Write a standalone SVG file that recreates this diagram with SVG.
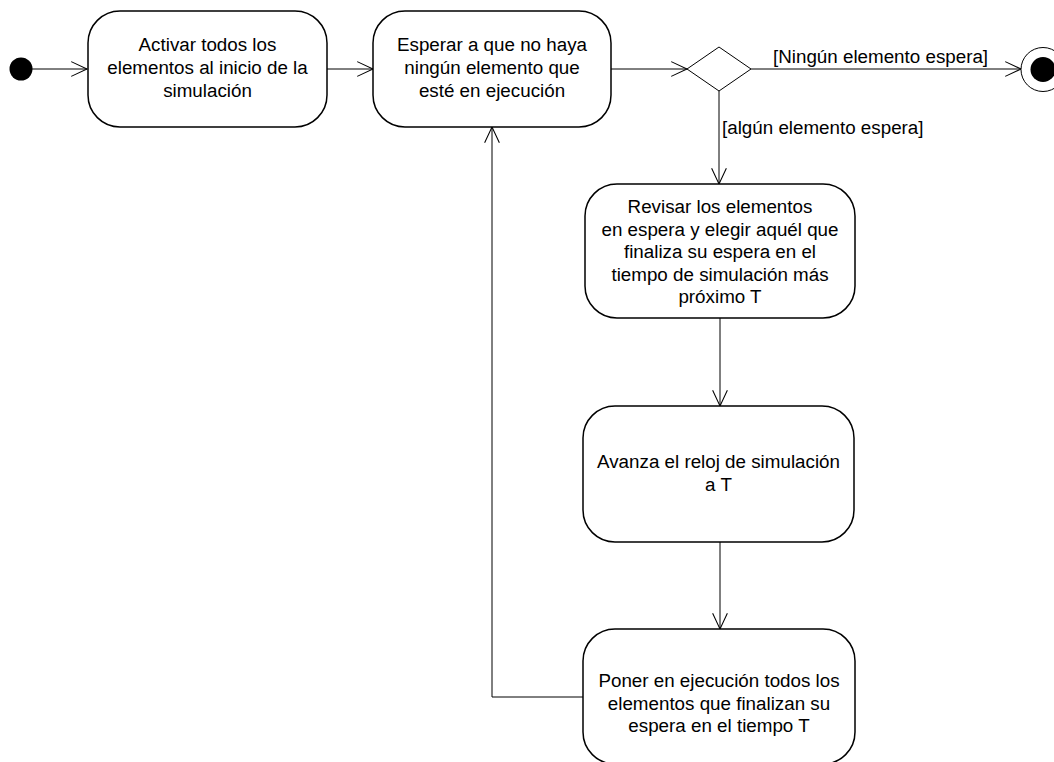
<svg xmlns="http://www.w3.org/2000/svg" width="1054" height="762" viewBox="0 0 1054 762">
<style>
.box{fill:#fff;stroke:#000;stroke-width:1.5}
.t{font-family:"Liberation Sans",Arial,sans-serif;font-size:18.8px;fill:#000;text-anchor:middle}
.l{font-family:"Liberation Sans",Arial,sans-serif;font-size:18.8px;fill:#000}
.c{fill:none;stroke:#000;stroke-width:1}
</style>
<defs>
<marker id="arr" markerUnits="userSpaceOnUse" markerWidth="20" markerHeight="20" viewBox="-17 -9 19 18" refX="0" refY="0" orient="auto">
<path d="M-15,-7 L0,0 L-15,7" fill="none" stroke="#000" stroke-width="1"/>
</marker>
</defs>
<rect width="1054" height="762" fill="#fff"/>
<g id="connectors">
<line class="c" x1="32" y1="69" x2="87" y2="69" marker-end="url(#arr)"/>
<line class="c" x1="327" y1="69" x2="373" y2="69" marker-end="url(#arr)"/>
<line class="c" x1="611" y1="69" x2="687" y2="69" marker-end="url(#arr)"/>
<line class="c" x1="751" y1="69" x2="1021" y2="69" marker-end="url(#arr)"/>
<line class="c" x1="719" y1="91" x2="719" y2="184" marker-end="url(#arr)"/>
<line class="c" x1="720" y1="318" x2="720" y2="406" marker-end="url(#arr)"/>
<line class="c" x1="720" y1="542" x2="720" y2="629" marker-end="url(#arr)"/>
<polyline class="c" points="583,697 492,697 492,127" marker-end="url(#arr)"/>
<text class="l" x="773" y="63">[Ningún elemento espera]</text>
<text class="l" x="722" y="134">[algún elemento espera]</text>
</g>
<g id="start">
<circle cx="21" cy="69" r="11.5" fill="#000"/>
</g>
<g id="activar">
<rect class="box" x="88" y="11" width="239" height="116" rx="32" ry="32"/>
<text class="t" x="207.5" y="51">Activar todos los</text>
<text class="t" x="207.5" y="73.8">elementos al inicio de la</text>
<text class="t" x="207.5" y="96.6">simulación</text>
</g>
<g id="esperar">
<rect class="box" x="373" y="11" width="238" height="116" rx="32" ry="32"/>
<text class="t" x="492" y="51">Esperar a que no haya</text>
<text class="t" x="492" y="73.8">ningún elemento que</text>
<text class="t" x="492" y="96.6">esté en ejecución</text>
</g>
<g id="decision">
<polygon points="687,69 719,47 751,69 719,91" fill="#fff" stroke="#000" stroke-width="1"/>
</g>
<g id="end">
<circle cx="1043" cy="69.5" r="22" fill="#fff" stroke="#000" stroke-width="1"/>
<circle cx="1043" cy="69.5" r="12.5" fill="#000"/>
</g>
<g id="revisar">
<rect class="box" x="585" y="184" width="270" height="134" rx="32" ry="32"/>
<text class="t" x="720" y="213">Revisar los elementos</text>
<text class="t" x="720" y="235.6">en espera y elegir aquél que</text>
<text class="t" x="720" y="258.2">finaliza su espera en el</text>
<text class="t" x="720" y="280.8">tiempo de simulación más</text>
<text class="t" x="720" y="303.4">próximo T</text>
</g>
<g id="avanza">
<rect class="box" x="583" y="406" width="271" height="136" rx="32" ry="32"/>
<text class="t" x="718.5" y="468">Avanza el reloj de simulación</text>
<text class="t" x="718.5" y="491">a T</text>
</g>
<g id="poner">
<rect class="box" x="583" y="629" width="272" height="135" rx="32" ry="32"/>
<text class="t" x="719" y="687">Poner en ejecución todos los</text>
<text class="t" x="719" y="709.6">elementos que finalizan su</text>
<text class="t" x="719" y="732.2">espera en el tiempo T</text>
</g>
</svg>
